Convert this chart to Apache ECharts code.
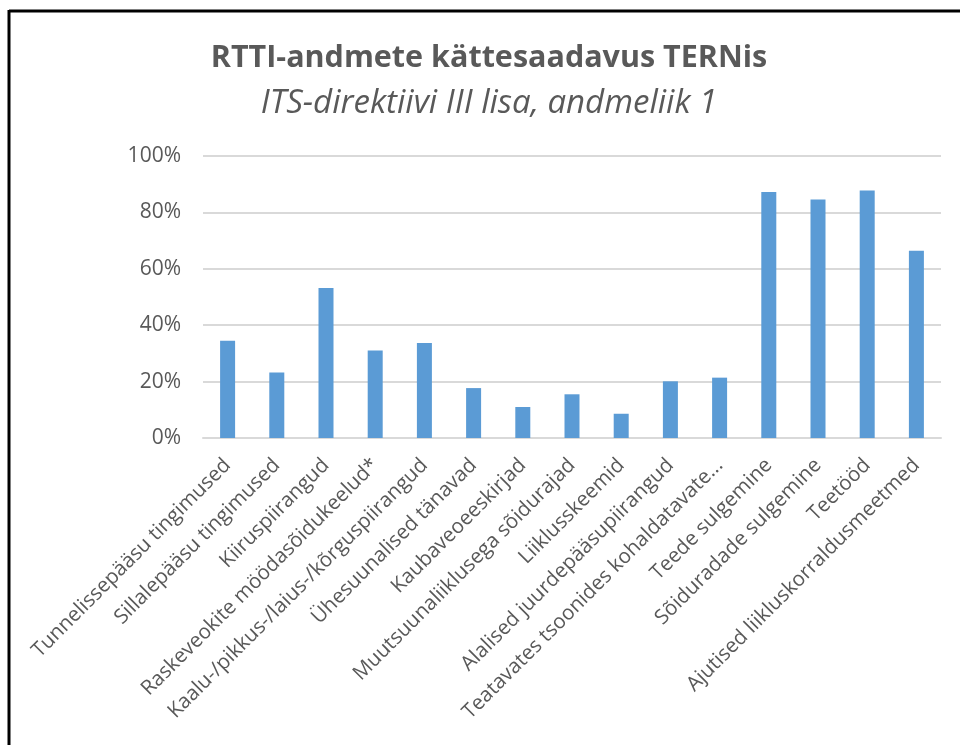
<!DOCTYPE html>
<html>
<head>
<meta charset="utf-8">
<script src="https://cdn.jsdelivr.net/npm/echarts@6/dist/echarts.min.js"></script>
<style>
html,body{margin:0;padding:0;background:#fff;}
#chart{width:960px;height:745px;}
</style>
</head>
<body>
<div id="chart"></div>
<script>
const titleText = "RTTI-andmete kättesaadavus TERNis";
const subtitleText = "ITS-direktiivi III lisa, andmeliik 1";
const categories = [
  "Tunnelissepääsu tingimused",
  "Sillalepääsu tingimused",
  "Kiiruspiirangud",
  "Raskeveokite möödasõidukeelud*",
  "Kaalu-/pikkus-/laius-/kõrguspiirangud",
  "Ühesuunalised tänavad",
  "Kaubaveoeeskirjad",
  "Muutsuunaliiklusega sõidurajad",
  "Liiklusskeemid",
  "Alalised juurdepääsupiirangud",
  "Teatavates tsoonides kohaldatavate...",
  "Teede sulgemine",
  "Sõiduradade sulgemine",
  "Teetööd",
  "Ajutised liikluskorraldusmeetmed"
];
const values = [34.5, 23.2, 53.2, 31.0, 33.7, 17.7, 11.0, 15.5, 8.6, 20.1, 21.4, 87.2, 84.6, 87.8, 66.4];
const yTicks = [0, 20, 40, 60, 80, 100];

const chart = echarts.init(document.getElementById('chart'), null, {renderer: 'canvas'});
const font = "'Open Sans', 'Noto Sans', sans-serif";
chart.setOption({
  animation: false,
  backgroundColor: '#ffffff',
  title: {
    text: titleText,
    subtext: subtitleText,
    left: 484,
    textAlign: 'center',
    top: 38,
    itemGap: 13,
    textStyle: {fontFamily: font, fontSize: 30.5, fontWeight: 'bold', color: '#595959'},
    subtextStyle: {fontFamily: font, fontSize: 33, fontStyle: 'italic', color: '#595959'}
  },
  graphic: [
    {type: 'line', shape: {x1: 9, y1: 11, x2: 960, y2: 11}, style: {stroke: '#000', lineWidth: 3}},
    {type: 'line', shape: {x1: 9, y1: 10, x2: 9, y2: 745}, style: {stroke: '#000', lineWidth: 3}}
  ],
  grid: {left: 203, right: 19, top: 156, bottom: 307, containLabel: false},
  xAxis: {
    type: 'category',
    data: categories,
    axisLine: {lineStyle: {color: '#d9d9d9', width: 2}},
    axisTick: {show: false},
    axisLabel: {
      interval: 0, rotate: 45, margin: 24,
      fontFamily: font, fontSize: 20.5, color: '#595959'
    }
  },
  yAxis: {
    type: 'value',
    min: yTicks[0], max: yTicks[yTicks.length - 1], interval: 20,
    axisLine: {show: false},
    axisTick: {show: false},
    splitLine: {lineStyle: {color: '#d9d9d9', width: 2}},
    axisLabel: {
      margin: 22, fontFamily: font, fontSize: 21, color: '#595959',
      formatter: v => v + '%'
    }
  },
  series: [{
    type: 'bar',
    data: values,
    barWidth: 15,
    itemStyle: {color: '#5b9bd5'}
  }]
});
</script>
</body>
</html>
